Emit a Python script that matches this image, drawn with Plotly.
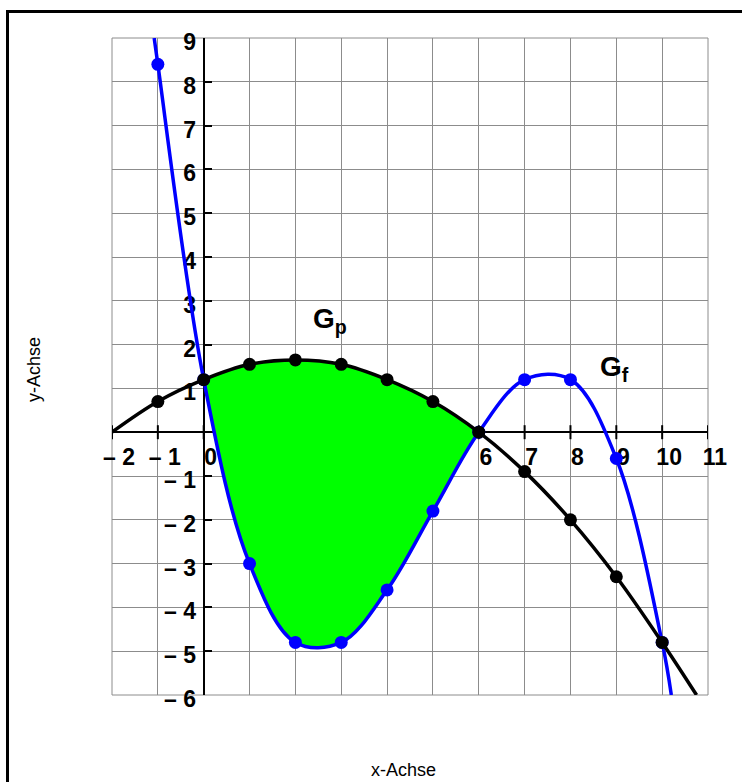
import plotly.graph_objects as go

# Function values at the integer grid points
x_marks = [-1, 0, 1, 2, 3, 4, 5, 6, 7, 8, 9, 10]
p_vals = [0.7, 1.2, 1.55, 1.65, 1.55, 1.2, 0.7, 0.0, -0.9, -2.0, -3.3, -4.8]
f_vals = [8.4, 1.2, -3.0, -4.8, -4.8, -3.6, -1.8, 0.0, 1.2, 1.2, -0.6, -4.8]

# Where each graph leaves the visible window
p_start, p_end = (-2.0, 0.0), (10.75, -6.0)
f_start, f_end = (-1.08, 9.0), (10.2, -6.0)

# Axis ticks and their labels
x_ticks = list(range(-2, 12))
x_labels = ["– 2", "– 1", "0", "1", "2", "3", "4", "5", "6", "7", "8", "9", "10", "11"]
y_ticks = list(range(-6, 10))
y_labels = ["– 6", "– 5", "– 4", "– 3", "– 2", "– 1", "", "1", "2", "3", "4", "5", "6", "7", "8", "9"]

X_RANGE = [-2, 11]
Y_RANGE = [-6, 9]

W, H = 742, 782
ML, MR, MT, MB = 112, 34, 38, 87
PW, PH = W - ML - MR, H - MT - MB

FONT = "Liberation Sans, Arial, sans-serif"
BLUE = "#0000ff"
BLACK = "#000000"
GREEN = "#00ff00"
GRID = "#8c8c8c"


def paper_x(px):
    return (px - ML) / PW


def paper_y(py):
    return (H - MB - py) / PH


p_line_x = [p_start[0]] + x_marks + [p_end[0]]
p_line_y = [p_start[1]] + p_vals + [p_end[1]]
f_line_x = [f_start[0]] + x_marks + [f_end[0]]
f_line_y = [f_start[1]] + f_vals + [f_end[1]]

# Area enclosed between the two graphs on [0, 6]
area_idx = [i for i, x in enumerate(x_marks) if 0 <= x <= 6]
area_x = [x_marks[i] for i in area_idx]
area_f = [f_vals[i] for i in area_idx]
area_p = [p_vals[i] for i in area_idx]

fig = go.Figure()

# tick marks crossing the x axis
fig.add_trace(go.Scatter(
    x=x_ticks, y=[0] * len(x_ticks), mode="markers",
    marker=dict(symbol="line-ns", size=10, line=dict(color=BLACK, width=2)),
    hoverinfo="skip", showlegend=False,
))

fig.add_trace(go.Scatter(
    x=area_x, y=area_f, mode="lines", line=dict(width=0, shape="spline"),
    hoverinfo="skip", showlegend=False,
))
fig.add_trace(go.Scatter(
    x=area_x, y=area_p, mode="lines", line=dict(width=0, shape="spline"),
    fill="tonexty", fillcolor=GREEN, hoverinfo="skip", showlegend=False,
))

# graph of f
fig.add_trace(go.Scatter(
    x=f_line_x, y=f_line_y, mode="lines",
    line=dict(color=BLUE, width=3.5, shape="spline"), showlegend=False,
))
fig.add_trace(go.Scatter(
    x=x_marks, y=f_vals, mode="markers",
    marker=dict(color=BLUE, size=13), showlegend=False,
))

# graph of p
fig.add_trace(go.Scatter(
    x=p_line_x, y=p_line_y, mode="lines",
    line=dict(color=BLACK, width=3.5, shape="spline"), showlegend=False,
))
fig.add_trace(go.Scatter(
    x=x_marks, y=p_vals, mode="markers",
    marker=dict(color=BLACK, size=13), showlegend=False,
))

tick_font = dict(family=FONT, size=23, color=BLACK, weight="bold")
name_font = dict(family=FONT, size=28, color=BLACK, weight="bold")

fig.update_xaxes(
    range=X_RANGE, tickvals=x_ticks, ticktext=x_labels,
    anchor="free", position=(0 - Y_RANGE[0]) / (Y_RANGE[1] - Y_RANGE[0]),
    showgrid=True, gridcolor=GRID, gridwidth=1, zeroline=False,
    showline=True, linecolor=BLACK, linewidth=2,
    ticks="", tickfont=tick_font, ticklabelshift=7, ticklabelstandoff=4,
    layer="below traces", fixedrange=True,
)
fig.update_yaxes(
    range=Y_RANGE, tickvals=y_ticks, ticktext=y_labels,
    anchor="free", position=(0 - X_RANGE[0]) / (X_RANGE[1] - X_RANGE[0]),
    showgrid=True, gridcolor=GRID, gridwidth=1, zeroline=False,
    showline=True, linecolor=BLACK, linewidth=2,
    ticks="inside", ticklen=7, tickwidth=2, tickcolor=BLACK,
    tickfont=tick_font, ticklabelshift=4, ticklabelstandoff=2,
    layer="below traces", fixedrange=True,
)

fig.update_layout(
    width=W, height=H,
    margin=dict(l=ML, r=MR, t=MT, b=MB, pad=0),
    paper_bgcolor="white", plot_bgcolor="white",
    font=dict(family=FONT, color=BLACK),
    showlegend=False,
    shapes=[
        # plot window border
        dict(type="rect", xref="paper", yref="paper", x0=0, y0=0, x1=1, y1=1,
             line=dict(color=GRID, width=1), layer="below"),
        # outer frame
        dict(type="rect", xref="paper", yref="paper",
             x0=paper_x(7.5), y0=paper_y(11.5), x1=paper_x(W + 40), y1=paper_y(H + 40),
             line=dict(color=BLACK, width=3), layer="above"),
    ],
    annotations=[
        dict(text="G<sub>p</sub>", x=2.75, y=2.56, xref="x", yref="y",
             xanchor="center", yanchor="middle", showarrow=False, font=name_font),
        dict(text="G<sub>f</sub>", x=8.95, y=1.46, xref="x", yref="y",
             xanchor="center", yanchor="middle", showarrow=False, font=name_font),
        dict(text="x-Achse", x=paper_x(403), y=paper_y(770), xref="paper", yref="paper",
             xanchor="center", yanchor="middle", showarrow=False,
             font=dict(family=FONT, size=18, color=BLACK)),
        dict(text="y-Achse", x=paper_x(34), y=paper_y(370), xref="paper", yref="paper",
             xanchor="center", yanchor="middle", showarrow=False, textangle=-90,
             font=dict(family=FONT, size=18, color=BLACK)),
    ],
)

fig.write_html("out.html")
